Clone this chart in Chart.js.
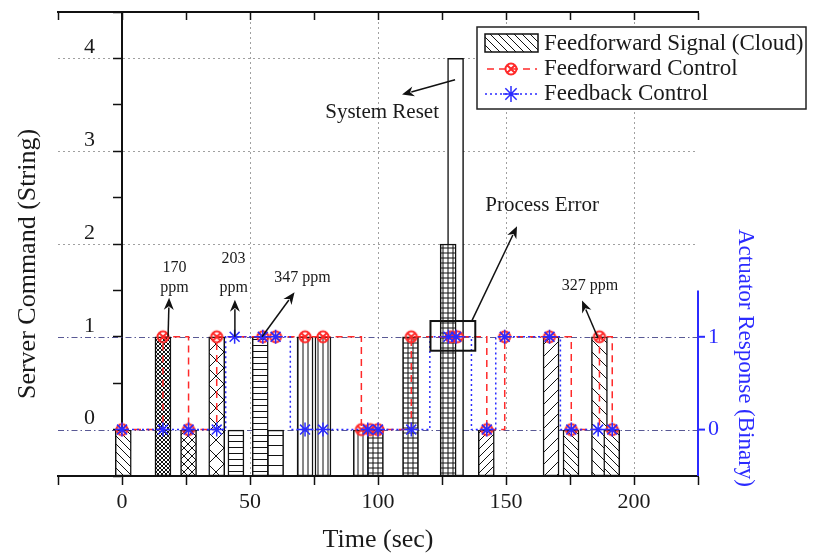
<!DOCTYPE html>
<html>
<head>
<meta charset="utf-8">
<script src="https://cdn.jsdelivr.net/npm/chart.js@4.4.1/dist/chart.umd.min.js"></script>
<style>
  html, body { margin: 0; padding: 0; background: #fff; }
  #wrap { width: 813px; height: 556px; }
</style>
</head>
<body>
<div id="wrap"><canvas id="cmdChart"></canvas></div>
<script>
// feedforward signal from the cloud (bars), time in sec and command level
const signalTime  = [0.5, 16, 26, 37, 44.5, 54, 60, 71.5, 78.5, 93.5, 99, 112.7, 130.3, 127.4, 142.3, 167.6, 175.4, 186.5, 191.3];
const signalLevel = [0, 1, 0, 1, 0, 1, 0, 1, 1, 0, 0, 1, 4, 2, 0, 1, 0, 1, 0];
const signalHatch = ['back', 'dots', 'cross', 'diamond', 'horiz', 'horiz', 'horizWide', 'vert', 'vert', 'vert',
                     'grid', 'grid', 'none', 'grid', 'fwd', 'fwdWide', 'back', 'backWide', 'back'];

// feedforward control (red) and feedback control (blue), binary
const ffTime  = [0, 16, 26, 37, 55, 60, 71.5, 78.5, 93.5, 97, 100, 113, 128.5, 131, 142.5, 149.5, 167, 175.5, 186.5, 191.5];
const ffLevel = [0, 1, 0, 1, 1, 1, 1, 1, 0, 0, 0, 1, 1, 1, 0, 1, 1, 0, 1, 0];
const fbTime  = [0, 16, 26, 37, 44, 55, 60, 71.5, 78.5, 96, 100, 113, 127.5, 130.5, 142.5, 149.5, 167, 175.5, 186, 191.5];
const fbLevel = [0, 0, 0, 0, 1, 1, 1, 0, 0, 0, 0, 0, 1, 1, 0, 1, 1, 0, 0, 0];

const xTickLabels = [0, 50, 100, 150, 200];
const leftTicks = [0, 1, 2, 3, 4];
const rightTicks = [0, 1];

// annotations (data coords)
const noteTexts = [
    { text: '170', x: 20.5, y: 1.745, size: 16 },
    { text: 'ppm', x: 20.5, y: 1.53, size: 16 },
    { text: '203', x: 43.6, y: 1.84, size: 16 },
    { text: 'ppm', x: 43.6, y: 1.53, size: 16 },
    { text: '347 ppm', x: 70.5, y: 1.64, size: 16 },
    { text: 'System Reset', x: 101.6, y: 3.42, size: 21 },
    { text: 'Process Error', x: 164.1, y: 2.41, size: 21 },
    { text: '327 ppm', x: 182.8, y: 1.55, size: 16 }
];
const noteArrows = [
    [[18, 1.0], [18.4, 1.42]],
    [[44.1, 1.0], [44.1, 1.40]],
    [[54.7, 1.0], [67.4, 1.48]],
    [[130.1, 3.77], [109.4, 3.61]],
    [[136.7, 1.175], [154.3, 2.19]],
    [[185.9, 0.99], [179.7, 1.39]]
];
const errorBox = [120.5, 0.85, 138, 1.17];

const Y_MIN = -0.5, Y_MAX = 4.5, X_MIN = -25, X_MAX = 225, RIGHT_TOP = 1.5;
const INK = '#1a1a1a', RED = '#ff2a2a', BLUE = '#2b2bff';
const SERIF = "'Liberation Serif', 'Times New Roman', serif";

Chart.defaults.font.family = SERIF;
Chart.defaults.color = INK;

function makeHatch(kind) {
    if (kind === 'none') return '#ffffff';
    const sizes = { back: 8, fwd: 8, backWide: 12, fwdWide: 12, cross: 8, dots: 4, diamond: 16,
                    horiz: 6, horizWide: 10, vert: 5, grid: 5 };
    const s = sizes[kind];
    const c = document.createElement('canvas');
    c.width = s; c.height = s;
    const g = c.getContext('2d');
    g.fillStyle = '#fff';
    g.fillRect(0, 0, s, s);
    g.strokeStyle = '#111';
    g.lineWidth = 1;
    g.beginPath();
    if (kind === 'fwd' || kind === 'fwdWide' || kind === 'cross' || kind === 'dots' || kind === 'diamond') {
        g.moveTo(-1, s + 1); g.lineTo(s + 1, -1);
        g.moveTo(-1, 1); g.lineTo(1, -1);
        g.moveTo(s - 1, s + 1); g.lineTo(s + 1, s - 1);
    }
    if (kind === 'back' || kind === 'backWide' || kind === 'cross' || kind === 'dots' || kind === 'diamond') {
        g.moveTo(-1, -1); g.lineTo(s + 1, s + 1);
        g.moveTo(s - 1, -1); g.lineTo(s + 1, 1);
        g.moveTo(-1, s - 1); g.lineTo(1, s + 1);
    }
    if (kind === 'horiz' || kind === 'horizWide' || kind === 'grid') {
        g.moveTo(0, s / 2 + 0.5); g.lineTo(s, s / 2 + 0.5);
    }
    if (kind === 'vert' || kind === 'grid') {
        g.moveTo(s / 2 + 0.5, 0); g.lineTo(s / 2 + 0.5, s);
    }
    g.stroke();
    return g.createPattern(c, 'repeat');
}
const hatches = {};
signalHatch.forEach(k => { if (!hatches[k]) hatches[k] = makeHatch(k); });

function makeRedMark() {
    const c = document.createElement('canvas');
    c.width = 16; c.height = 16;
    const g = c.getContext('2d');
    g.strokeStyle = RED;
    g.lineWidth = 2;
    g.beginPath();
    g.arc(8, 8, 5.5, 0, Math.PI * 2);
    g.moveTo(4, 4); g.lineTo(12, 12);
    g.moveTo(12, 4); g.lineTo(4, 12);
    g.stroke();
    return c;
}
const redMark = makeRedMark();

function drawArrow(ctx, x1, y1, x2, y2) {
    const a = Math.atan2(y2 - y1, x2 - x1);
    const len = 12, half = 5;
    ctx.beginPath();
    ctx.moveTo(x1, y1);
    ctx.lineTo(x2 - Math.cos(a) * len * 0.8, y2 - Math.sin(a) * len * 0.8);
    ctx.stroke();
    ctx.beginPath();
    ctx.moveTo(x2, y2);
    ctx.lineTo(x2 - Math.cos(a) * len + Math.sin(a) * half, y2 - Math.sin(a) * len - Math.cos(a) * half);
    ctx.lineTo(x2 - Math.cos(a) * len * 0.7, y2 - Math.sin(a) * len * 0.7);
    ctx.lineTo(x2 - Math.cos(a) * len - Math.sin(a) * half, y2 - Math.sin(a) * len + Math.cos(a) * half);
    ctx.closePath();
    ctx.fill();
}

const extras = {
    id: 'extras',
    beforeDatasetsDraw(chart) {
        const { ctx, chartArea, scales: { y } } = chart;
        ctx.save();
        ctx.strokeStyle = 'rgba(60,60,130,0.85)';
        ctx.lineWidth = 1;
        ctx.setLineDash([6, 3, 1.5, 3]);
        rightTicks.forEach(v => {
            const py = Math.round(y.getPixelForValue(v)) + 0.5;
            ctx.beginPath();
            ctx.moveTo(chartArea.left, py);
            ctx.lineTo(chartArea.right, py);
            ctx.stroke();
        });
        ctx.restore();
    },
    afterDraw(chart) {
        const { ctx, chartArea, scales: { x, y } } = chart;
        ctx.save();

        // left tick labels
        ctx.fillStyle = INK;
        ctx.font = '22px ' + SERIF;
        ctx.textAlign = 'right';
        ctx.textBaseline = 'middle';
        const x0 = x.getPixelForValue(0);
        leftTicks.forEach(v => ctx.fillText(String(v), x0 - 27, y.getPixelForValue(v) - 11));

        // right (binary) axis
        const xr = x.getPixelForValue(X_MAX);
        ctx.strokeStyle = BLUE;
        ctx.lineWidth = 2;
        ctx.beginPath();
        ctx.moveTo(xr, y.getPixelForValue(Y_MIN));
        ctx.lineTo(xr, y.getPixelForValue(RIGHT_TOP));
        ctx.stroke();
        ctx.fillStyle = BLUE;
        ctx.textAlign = 'left';
        rightTicks.forEach(v => {
            const py = y.getPixelForValue(v);
            ctx.beginPath();
            ctx.moveTo(xr, py);
            ctx.lineTo(xr + 7, py);
            ctx.stroke();
            ctx.fillText(String(v), xr + 10, py);
        });

        // axis titles
        ctx.fillStyle = INK;
        ctx.font = '26px ' + SERIF;
        ctx.textAlign = 'center';
        ctx.fillText('Time (sec)', (chartArea.left + chartArea.right) / 2, 540);
        ctx.save();
        ctx.translate(28, 264);
        ctx.rotate(-Math.PI / 2);
        ctx.fillText('Server Command (String)', 0, 0);
        ctx.restore();
        ctx.save();
        ctx.fillStyle = BLUE;
        ctx.font = '23px ' + SERIF;
        ctx.translate(745, 358);
        ctx.rotate(Math.PI / 2);
        ctx.fillText('Actuator Response (Binary)', 0, 0);
        ctx.restore();

        // annotations
        ctx.fillStyle = INK;
        noteTexts.forEach(n => {
            ctx.font = n.size + 'px ' + SERIF;
            ctx.fillText(n.text, x.getPixelForValue(n.x), y.getPixelForValue(n.y));
        });
        ctx.strokeStyle = '#111';
        ctx.fillStyle = '#111';
        ctx.lineWidth = 1.5;
        noteArrows.forEach(([a, b]) => drawArrow(ctx,
            x.getPixelForValue(a[0]), y.getPixelForValue(a[1]),
            x.getPixelForValue(b[0]), y.getPixelForValue(b[1])));
        ctx.lineWidth = 2;
        const bx1 = x.getPixelForValue(errorBox[0]), by1 = y.getPixelForValue(errorBox[3]);
        const bx2 = x.getPixelForValue(errorBox[2]), by2 = y.getPixelForValue(errorBox[1]);
        ctx.strokeRect(bx1, by1, bx2 - bx1, by2 - by1);

        // legend
        const ds = chart.data.datasets;
        const lx = 477, ly = 27, lw = 329, lh = 82;
        ctx.fillStyle = '#fff';
        ctx.fillRect(lx, ly, lw, lh);
        ctx.strokeStyle = '#222';
        ctx.lineWidth = 1.5;
        ctx.strokeRect(lx, ly, lw, lh);
        ctx.fillStyle = hatches.back;
        ctx.fillRect(485, 34, 53, 18);
        ctx.strokeStyle = '#111';
        ctx.strokeRect(485, 34, 53, 18);
        ctx.strokeStyle = RED;
        ctx.setLineDash([7, 5]);
        ctx.beginPath(); ctx.moveTo(487, 69); ctx.lineTo(537, 69); ctx.stroke();
        ctx.drawImage(redMark, 511 - 8, 69 - 8);
        ctx.strokeStyle = BLUE;
        ctx.setLineDash([2, 3]);
        ctx.beginPath(); ctx.moveTo(485, 94); ctx.lineTo(538, 94); ctx.stroke();
        ctx.setLineDash([]);
        ctx.lineWidth = 1.5;
        ctx.beginPath();
        for (let i = 0; i < 4; i++) {
            const a = i * Math.PI / 4;
            ctx.moveTo(511 - 8 * Math.cos(a), 94 - 8 * Math.sin(a));
            ctx.lineTo(511 + 8 * Math.cos(a), 94 + 8 * Math.sin(a));
        }
        ctx.stroke();
        ctx.fillStyle = INK;
        ctx.font = '23px ' + SERIF;
        ctx.textAlign = 'left';
        ctx.fillText(ds[2].label, 544, 44);
        ctx.fillText(ds[1].label, 544, 69);
        ctx.fillText(ds[0].label, 544, 94);

        ctx.restore();
    }
};

const tickVal = c => (c.tick ? c.tick.value : NaN);

const config = {
    type: 'bar',
    data: {
        datasets: [
            {
                type: 'line',
                label: 'Feedback Control',
                data: fbTime.map((t, i) => ({ x: t, y: fbLevel[i] })),
                borderColor: BLUE,
                borderWidth: 1.5,
                borderDash: [2, 3],
                stepped: 'middle',
                fill: false,
                pointStyle: 'star',
                pointRadius: 7,
                pointBorderColor: BLUE,
                pointBorderWidth: 1.5,
                order: 1
            },
            {
                type: 'line',
                label: 'Feedforward Control',
                data: ffTime.map((t, i) => ({ x: t, y: ffLevel[i] })),
                borderColor: RED,
                borderWidth: 1.5,
                borderDash: [7, 5],
                stepped: 'before',
                fill: false,
                pointStyle: redMark,
                order: 2
            },
            {
                type: 'bar',
                label: 'Feedforward Signal (Cloud)',
                data: signalTime.map((t, i) => ({ x: t, y: [Y_MIN, signalLevel[i]] })),
                backgroundColor: c => hatches[signalHatch[c.dataIndex]] || '#fff',
                borderColor: '#111',
                borderWidth: 1.5,
                borderSkipped: false,
                barThickness: 16,
                grouped: false,
                order: 3
            }
        ]
    },
    options: {
        responsive: true,
        maintainAspectRatio: false,
        animation: false,
        layout: { padding: { left: 58, right: 115, top: 12, bottom: 80 } },
        plugins: { legend: { display: false }, tooltip: { enabled: false } },
        scales: {
            x: {
                type: 'linear', axis: 'x', min: X_MIN, max: X_MAX, offset: false,
                position: { y: Y_MIN },
                ticks: {
                    stepSize: 25, autoSkip: false, maxRotation: 0, padding: 5,
                    color: INK, font: { size: 22 },
                    callback: v => (xTickLabels.includes(v) ? String(v) : '')
                },
                grid: {
                    offset: false,
                    color: c => (xTickLabels.includes(tickVal(c)) && tickVal(c) !== 0 ? '#a0a0a0' : 'rgba(0,0,0,0)'),
                    lineWidth: 1, tickLength: 8, tickColor: '#111', tickWidth: 1.5
                },
                border: { color: '#111', width: 2, dash: [2, 3] }
            },
            xTop: {
                type: 'linear', axis: 'x', min: X_MIN, max: X_MAX, offset: false,
                position: { y: Y_MAX },
                ticks: { display: false, stepSize: 25 },
                grid: { offset: false, drawOnChartArea: false, tickLength: 7, tickColor: '#111', tickWidth: 1.5 },
                border: { color: '#111', width: 2 }
            },
            y: {
                type: 'linear', axis: 'y', min: Y_MIN, max: Y_MAX,
                position: { x: 0 },
                ticks: { display: false, stepSize: 0.5 },
                grid: {
                    color: c => (Number.isInteger(tickVal(c)) && !rightTicks.includes(tickVal(c)) ? '#a0a0a0' : 'rgba(0,0,0,0)'),
                    lineWidth: 1, tickLength: 8, tickColor: '#111', tickWidth: 1.5
                },
                border: { color: '#111', width: 2, dash: [2, 3] }
            }
        }
    },
    plugins: [extras]
};

new Chart(document.getElementById('cmdChart').getContext('2d'), config);
</script>
</body>
</html>
